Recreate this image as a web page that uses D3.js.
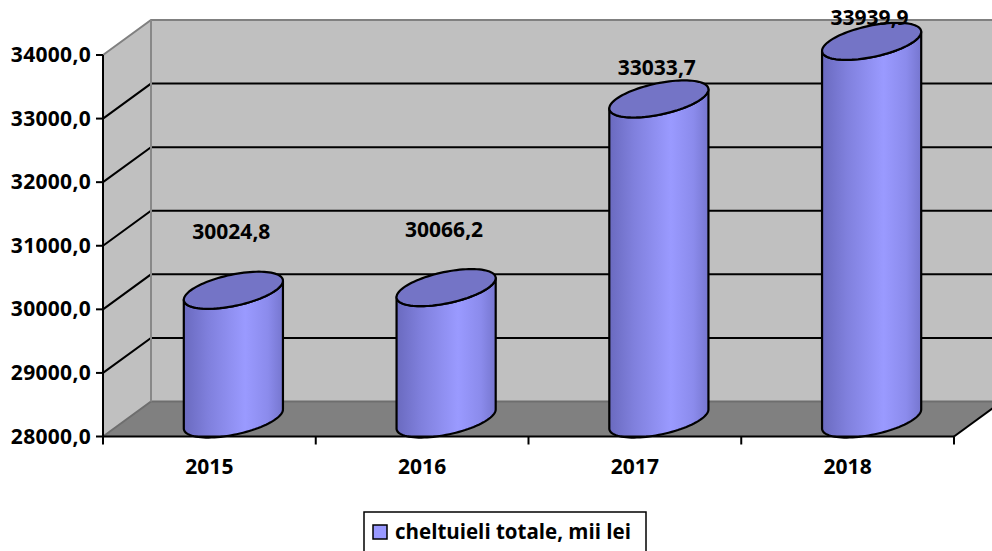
<!DOCTYPE html>
<html>
<head>
<meta charset="utf-8">
<script src="https://cdn.jsdelivr.net/npm/d3@7"></script>
<style>
  body { margin: 0; background: #fff; }
  text { font-family: "Open Sans", sans-serif; font-weight: 700; fill: #000; }
</style>
</head>
<body>
<div id="chart"></div>
<script>
const years = ["2015", "2016", "2017", "2018"];
const spending = [30024.8, 30066.2, 33033.7, 33939.9];
const yTicks = [28000, 29000, 30000, 31000, 32000, 33000, 34000];
const seriesName = "cheltuieli totale, mii lei";

const width = 992, height = 551;
const depth = { dx: 48, dy: -35 };

const svg = d3.select("#chart").append("svg")
  .attr("width", width)
  .attr("height", height);

const x = d3.scaleBand().domain(years).range([103, 954]).padding(0);
const y = d3.scaleLinear().domain([28000, 34000]).range([436.5, 55]);
// labels sit on a slightly flatter scale (3d projection of the label plane)
const labelY = d3.scaleLinear().domain(y.domain())
  .range([y.range()[0] - 87, y.range()[1] - 33]);

const fmt = v => d3.format(".1f")(v).replace(".", ",");

const x0 = x.range()[0], x1 = x.range()[1];
const yb = y(28000), yt = y(34000);

// walls and floor
svg.append("polygon")
  .attr("points", [[x0, yb], [x0, yt], [x0 + depth.dx, yt + depth.dy], [x0 + depth.dx, yb + depth.dy]].join(" "))
  .attr("fill", "#c0c0c0");
svg.append("polygon")
  .attr("points", [[x0 + depth.dx, yt + depth.dy], [width + 20, yt + depth.dy], [width + 20, yb + depth.dy], [x0 + depth.dx, yb + depth.dy]].join(" "))
  .attr("fill", "#c0c0c0");
svg.append("polygon")
  .attr("points", [[x0, yb], [x1, yb], [x1 + depth.dx, yb + depth.dy], [x0 + depth.dx, yb + depth.dy]].join(" "))
  .attr("fill", "#808080");

// gridlines
yTicks.forEach(t => {
  const col = t === 34000 ? "#808080" : (t === 28000 ? "#6e6e6e" : "#000");
  svg.append("polyline")
    .attr("points", [[x0, y(t)], [x0 + depth.dx, y(t) + depth.dy], [width + 20, y(t) + depth.dy]].join(" "))
    .attr("fill", "none")
    .attr("stroke", col)
    .attr("stroke-width", 2);
});
svg.append("line")
  .attr("x1", x0 + depth.dx).attr("x2", x0 + depth.dx)
  .attr("y1", yt + depth.dy).attr("y2", yb + depth.dy)
  .attr("stroke", "#888").attr("stroke-width", 2);

// cylinders
const bw = x.bandwidth();
const ru = bw * 0.2;
const k = 0.53;
const wx = depth.dx * k, wy = depth.dy * k;
const t0 = Math.atan2(wx, ru);

function pt(cx, cy, t) {
  return [cx + ru * Math.cos(t) + wx * Math.sin(t), cy + wy * Math.sin(t)];
}
function arcPts(cx, cy, ta, tb, n = 48) {
  return d3.range(n + 1).map(i => pt(cx, cy, ta + (tb - ta) * i / n));
}

const grad = svg.append("defs").append("linearGradient")
  .attr("id", "cyl").attr("x1", "0").attr("x2", "1").attr("y1", "0").attr("y2", "0");
[[0, "#6a6abf"], [0.25, "#8080dd"], [0.62, "#9a9aff"], [0.85, "#8b8bec"], [1, "#7676cf"]]
  .forEach(([o, c]) => grad.append("stop").attr("offset", o).attr("stop-color", c));

const line = d3.line();

years.forEach((yr, i) => {
  const cx = x(yr) + bw / 2 + depth.dx / 2;
  const cyB = yb + depth.dy / 2;
  const cyT = y(spending[i]) + depth.dy / 2;
  const bottom = arcPts(cx, cyB, t0 + Math.PI, t0 + 2 * Math.PI);
  const topFront = arcPts(cx, cyT, t0 + 2 * Math.PI, t0 + Math.PI);
  svg.append("path")
    .attr("d", line(bottom.concat(topFront)) + "Z")
    .attr("fill", "url(#cyl)")
    .attr("stroke", "#000")
    .attr("stroke-width", 2.2)
    .attr("stroke-linejoin", "round");
  svg.append("path")
    .attr("d", line(arcPts(cx, cyT, 0, 2 * Math.PI, 96)) + "Z")
    .attr("fill", "#7474c6")
    .attr("stroke", "#000")
    .attr("stroke-width", 2.2);
  svg.append("text")
    .attr("x", cx - 2)
    .attr("y", labelY(spending[i]))
    .attr("text-anchor", "middle")
    .style("font-size", "21px")
    .text(fmt(spending[i]));
});

// axes
svg.append("line")
  .attr("x1", x0).attr("x2", x0).attr("y1", yt).attr("y2", yb)
  .attr("stroke", "#000").attr("stroke-width", 2);
yTicks.forEach(t => {
  svg.append("line")
    .attr("x1", x0 - 7).attr("x2", x0).attr("y1", y(t)).attr("y2", y(t))
    .attr("stroke", "#000").attr("stroke-width", 2);
  svg.append("text")
    .attr("x", x0 - 12).attr("y", y(t) + 7)
    .attr("text-anchor", "end")
    .style("font-size", "21px")
    .style("letter-spacing", "0.3px")
    .text(fmt(t));
});
svg.append("line")
  .attr("x1", x0).attr("x2", x1).attr("y1", yb).attr("y2", yb)
  .attr("stroke", "#000").attr("stroke-width", 2);
svg.append("line")
  .attr("x1", x1).attr("x2", x1 + depth.dx).attr("y1", yb).attr("y2", yb + depth.dy)
  .attr("stroke", "#000").attr("stroke-width", 2);
years.concat([null]).forEach(yr => {
  const tx = yr ? x(yr) : x1;
  svg.append("line")
    .attr("x1", tx).attr("x2", tx).attr("y1", yb).attr("y2", yb + 8)
    .attr("stroke", "#000").attr("stroke-width", 2);
});
years.forEach(yr => {
  svg.append("text")
    .attr("x", x(yr) + bw / 2)
    .attr("y", yb + 37)
    .attr("text-anchor", "middle")
    .style("font-size", "21px")
    .text(yr);
});

// legend
const lg = svg.append("g").attr("transform", "translate(364,512)");
lg.append("rect")
  .attr("width", 282).attr("height", 42)
  .attr("fill", "#fff").attr("stroke", "#000").attr("stroke-width", 1.5);
lg.append("rect")
  .attr("x", 9).attr("y", 13).attr("width", 14).attr("height", 14)
  .attr("fill", "#9999ff").attr("stroke", "#000").attr("stroke-width", 1.5);
lg.append("text")
  .attr("x", 31).attr("y", 27)
  .style("font-size", "20.5px")
  .text(seriesName);
</script>
</body>
</html>
